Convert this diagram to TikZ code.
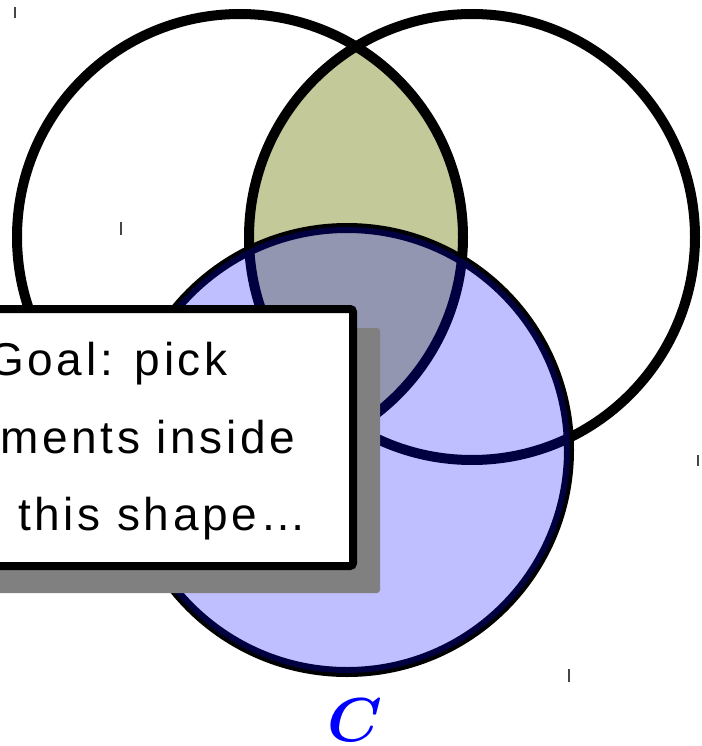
\documentclass[tikz,border=0pt]{standalone}
\usepackage{fontspec}
\newfontfamily\handfont[LetterSpace=8]{Liberation Sans}
\definecolor{olivefill}{RGB}{195,201,152}
\definecolor{shadowgray}{RGB}{128,128,128}
\definecolor{tickgray}{RGB}{70,70,70}
\newcommand{\boldC}{\scalebox{6.2}{\mbox{\boldmath$C$}}}
\tikzset{
  setcircle/.style={draw=black, line width=10pt},
  boxtext/.style={anchor=base west, inner sep=0pt, font=\handfont\fontsize{46}{46}\selectfont},
  tickmark/.style={draw=tickgray, line width=1.6pt},
}
\begin{document}
\begin{tikzpicture}[x=1pt,y=-1pt]
\useasboundingbox (0,0) rectangle (701,746);
\clip (0,0) rectangle (701,746);
% intersection A and B
\begin{scope}
  \clip (240,237) circle (223);
  \fill[olivefill] (472,237) circle (223);
\end{scope}
% circles
\draw[setcircle] (240,237) circle (223);
\draw[setcircle] (472,237) circle (223);
\draw[setcircle] (347,450) circle (222);
% translucent blue set C
\fill[blue, fill opacity=0.25] (347,450) circle (223);
% shadow and box
\fill[shadowgray, rounded corners=3pt] (-10,328) rectangle (380,593);
\draw[fill=white, draw=black, line width=8pt, rounded corners=3pt] (-30,309) rectangle (353,566);
\node[boxtext] (l1) at (-12,375) {Goal: pick};
\node[boxtext] (l2) at (0,453) {ments inside};
\node[boxtext] (l3) at (18,530) {this shape…};
% label
\node[text=blue, inner sep=0pt, anchor=base] (lc) at (355,741) {\boldC};
% ticks
\draw[tickmark] (15,7) -- (15,18);
\draw[tickmark] (121,222) -- (121,235);
\draw[tickmark] (698,455) -- (698,466);
\draw[tickmark] (569,669) -- (569,682);
\end{tikzpicture}
\end{document}
